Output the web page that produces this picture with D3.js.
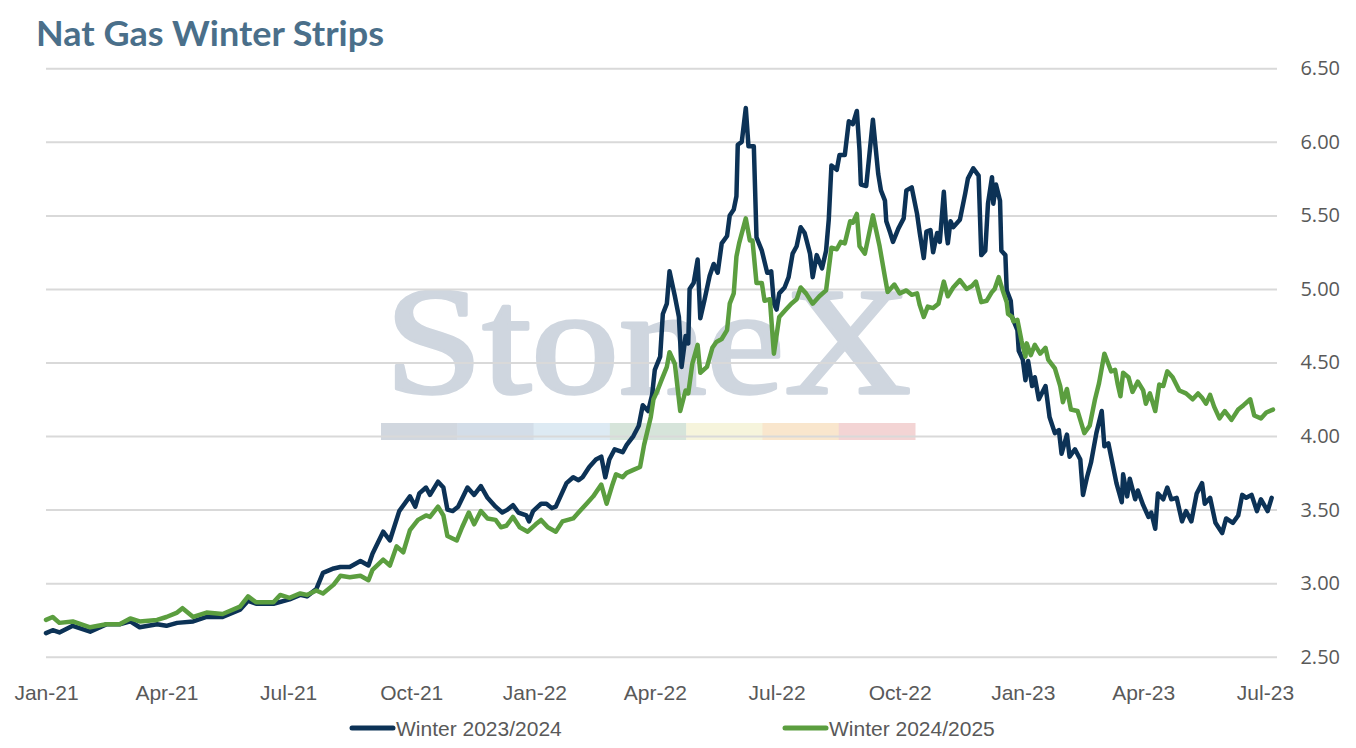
<!DOCTYPE html>
<html>
<head>
<meta charset="utf-8">
<script src="https://cdn.jsdelivr.net/npm/d3@7"></script>
<style>
  body { margin: 0; background: #fff; }
  svg { display: block; }
</style>
</head>
<body>
<div id="chart"></div>
<script>
// ---- data ----
const seriesNames = ["Winter 2023/2024", "Winter 2024/2025"];
const seriesColors = ["#0c3256", "#5b9e3f"];
const yTicks = [2.5, 3.0, 3.5, 4.0, 4.5, 5.0, 5.5, 6.0, 6.5];

const dates2324 = [
  "2021-01-01","2021-01-06","2021-01-11","2021-01-21","2021-02-03","2021-02-15","2021-02-25","2021-03-05","2021-03-12","2021-03-25",
  "2021-04-01","2021-04-09","2021-04-21","2021-05-01","2021-05-13","2021-05-26","2021-06-01","2021-06-07","2021-06-20","2021-07-02",
  "2021-07-10","2021-07-15","2021-07-22","2021-07-27","2021-08-04","2021-08-09","2021-08-16","2021-08-24","2021-08-30","2021-09-02",
  "2021-09-10","2021-09-15","2021-09-22","2021-09-30","2021-10-04","2021-10-07","2021-10-12","2021-10-15","2021-10-21","2021-10-25",
  "2021-10-28","2021-11-01","2021-11-05","2021-11-12","2021-11-17","2021-11-22","2021-11-27","2021-12-03","2021-12-08","2021-12-12",
  "2021-12-16","2021-12-20","2021-12-26","2021-12-28","2021-12-31","2022-01-06","2022-01-10","2022-01-14","2022-01-17","2022-01-25",
  "2022-01-30","2022-02-03","2022-02-06","2022-02-11","2022-02-16","2022-02-20","2022-02-23","2022-02-26","2022-03-02","2022-03-08",
  "2022-03-11","2022-03-16","2022-03-20","2022-03-23","2022-03-27","2022-03-30","2022-04-01","2022-04-05","2022-04-07","2022-04-10",
  "2022-04-12","2022-04-16","2022-04-19","2022-04-21","2022-04-24","2022-04-26","2022-04-27","2022-04-30","2022-05-03","2022-05-05",
  "2022-05-08","2022-05-12","2022-05-15","2022-05-18","2022-05-21","2022-05-25","2022-05-27","2022-05-30","2022-06-01","2022-06-02",
  "2022-06-05","2022-06-08","2022-06-10","2022-06-14","2022-06-16","2022-06-20","2022-06-24","2022-06-27","2022-06-29","2022-07-01",
  "2022-07-03","2022-07-07","2022-07-10","2022-07-13","2022-07-16","2022-07-19","2022-07-22","2022-07-26","2022-07-28","2022-07-31",
  "2022-08-04","2022-08-07","2022-08-09","2022-08-11","2022-08-15","2022-08-17","2022-08-21","2022-08-24","2022-08-27","2022-08-30",
  "2022-09-01","2022-09-02","2022-09-06","2022-09-08","2022-09-11","2022-09-15","2022-09-17","2022-09-20","2022-09-21","2022-09-24",
  "2022-09-26","2022-09-30","2022-10-04","2022-10-06","2022-10-10","2022-10-14","2022-10-16","2022-10-19","2022-10-21","2022-10-24",
  "2022-10-26","2022-10-29","2022-10-31","2022-11-03","2022-11-05","2022-11-06","2022-11-08","2022-11-10","2022-11-15","2022-11-19",
  "2022-11-21","2022-11-25","2022-11-29","2022-12-01","2022-12-04","2022-12-06","2022-12-09","2022-12-10","2022-12-12","2022-12-15",
  "2022-12-16","2022-12-19","2022-12-20","2022-12-23","2022-12-24","2022-12-28","2022-12-29","2023-01-01","2023-01-03","2023-01-05",
  "2023-01-08","2023-01-10","2023-01-13","2023-01-18","2023-01-21","2023-01-25","2023-01-28","2023-01-30","2023-02-03","2023-02-05",
  "2023-02-09","2023-02-13","2023-02-15","2023-02-18","2023-02-21","2023-02-25","2023-03-01","2023-03-03","2023-03-06","2023-03-08",
  "2023-03-12","2023-03-16","2023-03-17","2023-03-20","2023-03-22","2023-03-26","2023-03-28","2023-04-01","2023-04-05","2023-04-07",
  "2023-04-10","2023-04-12","2023-04-16","2023-04-19","2023-04-22","2023-04-26","2023-04-30","2023-05-03","2023-05-07","2023-05-11",
  "2023-05-15","2023-05-17","2023-05-21","2023-05-25","2023-05-30","2023-06-02","2023-06-07","2023-06-11","2023-06-14","2023-06-17",
  "2023-06-21","2023-06-25","2023-06-28","2023-07-03","2023-07-06"
];
const winter2324 = [
  2.66,2.68,2.665,2.71,2.67,2.72,2.72,2.74,2.70,2.72,
  2.71,2.73,2.74,2.77,2.77,2.82,2.88,2.86,2.86,2.89,
  2.92,2.91,2.96,3.07,3.10,3.11,3.11,3.15,3.12,3.20,
  3.35,3.29,3.49,3.59,3.52,3.61,3.65,3.60,3.69,3.65,
  3.50,3.49,3.52,3.65,3.60,3.66,3.58,3.52,3.48,3.50,
  3.53,3.48,3.46,3.42,3.49,3.54,3.54,3.51,3.52,3.68,
  3.72,3.70,3.72,3.79,3.84,3.86,3.72,3.84,3.91,3.89,
  3.94,4.00,4.07,4.21,4.17,4.28,4.45,4.54,4.83,4.90,
  5.12,4.95,4.81,4.47,4.68,4.63,5.00,5.04,5.20,4.80,
  4.92,5.09,5.17,5.11,5.31,5.36,5.50,5.54,5.63,5.98,
  6.00,6.23,5.97,5.97,5.35,5.26,5.11,5.12,4.90,4.86,
  4.97,5.01,5.08,5.24,5.29,5.42,5.38,5.24,5.08,5.23,
  5.14,5.26,5.47,5.84,5.81,5.91,5.91,6.14,6.12,6.21,
  5.94,5.71,5.70,5.88,6.15,5.78,5.67,5.60,5.46,5.38,
  5.32,5.41,5.48,5.67,5.69,5.51,5.38,5.21,5.39,5.40,
  5.25,5.38,5.32,5.66,5.38,5.31,5.46,5.42,5.47,5.65,
  5.75,5.82,5.77,5.23,5.26,5.58,5.76,5.58,5.71,5.60,
  5.26,5.23,4.99,4.92,4.81,4.72,4.58,4.52,4.38,4.51,
  4.34,4.40,4.25,4.34,4.13,4.02,4.04,3.88,4.01,3.86,
  3.91,3.84,3.60,3.72,3.82,4.02,4.17,3.93,3.95,3.86,
  3.68,3.55,3.74,3.59,3.71,3.57,3.63,3.53,3.45,3.48,
  3.37,3.61,3.57,3.65,3.57,3.58,3.42,3.49,3.42,3.61,
  3.68,3.54,3.58,3.41,3.34,3.44,3.41,3.46,3.60,3.58,
  3.60,3.49,3.57,3.49,3.58
];

const dates2425 = [
  "2021-01-01","2021-01-06","2021-01-11","2021-01-21","2021-02-03","2021-02-15","2021-02-25","2021-03-05","2021-03-12","2021-03-25",
  "2021-04-01","2021-04-09","2021-04-13","2021-04-21","2021-05-01","2021-05-13","2021-05-26","2021-06-01","2021-06-07","2021-06-20",
  "2021-06-25","2021-07-02","2021-07-10","2021-07-15","2021-07-22","2021-07-27","2021-08-04","2021-08-09","2021-08-16","2021-08-24",
  "2021-08-30","2021-09-02","2021-09-10","2021-09-15","2021-09-20","2021-09-25","2021-09-30","2021-10-06","2021-10-12","2021-10-15",
  "2021-10-21","2021-10-25","2021-10-28","2021-11-04","2021-11-08","2021-11-13","2021-11-17","2021-11-22","2021-11-27","2021-12-03",
  "2021-12-07","2021-12-11","2021-12-16","2021-12-21","2021-12-27","2022-01-02","2022-01-06","2022-01-11","2022-01-17","2022-01-22",
  "2022-01-30","2022-02-04","2022-02-09","2022-02-14","2022-02-20","2022-02-24","2022-02-28","2022-03-03","2022-03-08","2022-03-11",
  "2022-03-16","2022-03-21","2022-03-24","2022-03-29","2022-03-31","2022-04-03","2022-04-06","2022-04-10","2022-04-12","2022-04-16",
  "2022-04-20","2022-04-24","2022-04-26","2022-04-29","2022-05-03","2022-05-05","2022-05-10","2022-05-14","2022-05-17","2022-05-21",
  "2022-05-25","2022-05-27","2022-05-30","2022-06-01","2022-06-03","2022-06-08","2022-06-11","2022-06-13","2022-06-16","2022-06-20",
  "2022-06-22","2022-06-26","2022-06-29","2022-07-03","2022-07-08","2022-07-12","2022-07-16","2022-07-19","2022-07-23","2022-07-28",
  "2022-08-02","2022-08-07","2022-08-11","2022-08-15","2022-08-18","2022-08-21","2022-08-25","2022-08-27","2022-08-30","2022-09-01",
  "2022-09-05","2022-09-11","2022-09-16","2022-09-20","2022-09-22","2022-09-27","2022-10-01","2022-10-06","2022-10-10","2022-10-14",
  "2022-10-16","2022-10-19","2022-10-22","2022-10-26","2022-10-30","2022-11-03","2022-11-06","2022-11-10","2022-11-15","2022-11-20",
  "2022-11-24","2022-11-27","2022-12-01","2022-12-05","2022-12-09","2022-12-11","2022-12-14","2022-12-17","2022-12-20","2022-12-21",
  "2022-12-24","2022-12-25","2022-12-28","2022-12-31","2023-01-03","2023-01-04","2023-01-07","2023-01-10","2023-01-14","2023-01-18",
  "2023-01-20","2023-01-25","2023-01-29","2023-01-31","2023-02-03","2023-02-06","2023-02-11","2023-02-16","2023-02-20","2023-02-24",
  "2023-02-27","2023-03-03","2023-03-06","2023-03-08","2023-03-11","2023-03-13","2023-03-15","2023-03-17","2023-03-21","2023-03-24",
  "2023-03-28","2023-04-01","2023-04-03","2023-04-06","2023-04-10","2023-04-13","2023-04-16","2023-04-19","2023-04-23","2023-04-28",
  "2023-05-03","2023-05-08","2023-05-12","2023-05-15","2023-05-18","2023-05-21","2023-05-24","2023-05-28","2023-06-01","2023-06-06",
  "2023-06-11","2023-06-15","2023-06-20","2023-06-23","2023-06-28","2023-07-02","2023-07-07"
];
const winter2425 = [
  2.75,2.77,2.73,2.74,2.70,2.72,2.72,2.76,2.74,2.75,
  2.77,2.80,2.83,2.77,2.80,2.79,2.84,2.91,2.87,2.87,
  2.92,2.90,2.93,2.92,2.95,2.93,2.99,3.05,3.04,3.05,
  3.02,3.09,3.16,3.12,3.25,3.21,3.36,3.43,3.46,3.45,
  3.52,3.46,3.32,3.29,3.38,3.48,3.40,3.49,3.44,3.43,
  3.38,3.39,3.45,3.38,3.35,3.40,3.43,3.38,3.35,3.42,
  3.44,3.49,3.54,3.59,3.67,3.54,3.66,3.74,3.72,3.75,
  3.77,3.79,3.94,4.13,4.25,4.31,4.38,4.47,4.57,4.49,
  4.17,4.31,4.29,4.49,4.62,4.43,4.47,4.60,4.64,4.66,
  4.72,4.90,4.97,5.22,5.31,5.48,5.33,5.33,5.04,5.04,
  4.92,4.93,4.56,4.81,4.86,4.90,4.93,5.01,4.97,4.90,
  4.95,4.99,5.28,5.27,5.32,5.31,5.46,5.45,5.51,5.29,
  5.24,5.50,5.29,5.08,4.98,5.03,4.97,4.99,4.96,4.97,
  4.89,4.81,4.88,4.87,4.90,5.05,4.95,5.01,5.06,5.00,
  5.02,5.05,4.91,4.92,4.98,5.00,5.08,4.99,4.91,4.83,
  4.81,4.78,4.79,4.65,4.54,4.63,4.55,4.62,4.56,4.60,
  4.52,4.46,4.34,4.23,4.32,4.18,4.17,4.02,4.07,4.25,
  4.36,4.56,4.49,4.44,4.45,4.35,4.27,4.43,4.40,4.30,
  4.37,4.31,4.22,4.29,4.17,4.35,4.34,4.44,4.40,4.31,
  4.29,4.25,4.29,4.26,4.22,4.28,4.20,4.12,4.17,4.11,
  4.18,4.21,4.25,4.14,4.12,4.16,4.18
];

const seriesDates = [dates2324, dates2425];
const seriesValues = [winter2324, winter2425];

// ---- layout ----
const W = 1356, H = 748;
const plot = { left: 46, right: 1277, top: 68.3, bottom: 656.7 };
const parseDate = d3.timeParse("%Y-%m-%d");

const svg = d3.select("#chart").append("svg")
  .attr("width", W)
  .attr("height", H);

const x = d3.scaleTime()
  .domain([parseDate("2021-01-01"), parseDate("2023-07-10")])
  .range([plot.left, plot.right]);

const y = d3.scaleLinear()
  .domain([2.5, 6.5])
  .range([plot.bottom, plot.top]);

// title
svg.append("text")
  .attr("x", 36)
  .attr("y", 46)
  .attr("font-family", "Lato, 'Open Sans', sans-serif")
  .attr("font-weight", 700)
  .attr("font-size", 34)
  .attr("textLength", 348)
  .attr("lengthAdjust", "spacingAndGlyphs")
  .attr("fill", "#4a6f8a")
  .text("Nat Gas Winter Strips");

// watermark
const wm = svg.append("g").attr("class", "watermark");
wm.append("text")
  .attr("x", 385)
  .attr("y", 393)
  .attr("font-family", "'Liberation Serif', 'DejaVu Serif', serif")
  .attr("font-size", 152)
  .attr("textLength", 526)
  .attr("lengthAdjust", "spacingAndGlyphs")
  .attr("fill", "#cfd6df")
  .attr("stroke", "#cfd6df")
  .attr("stroke-width", 3.5)
  .attr("stroke-linejoin", "round")
  .text("StoneX");
const wmColors = ["#d1d7df", "#d3dde8", "#ddeaf3", "#d6e4da", "#f6f4dc", "#f9e6cd", "#f3d4d4"];
const segW = (915 - 381) / wmColors.length;
wm.selectAll("rect")
  .data(wmColors)
  .join("rect")
  .attr("x", (d, i) => 381 + i * segW)
  .attr("y", 423)
  .attr("width", segW + 0.5)
  .attr("height", 17)
  .attr("fill", d => d);

// y axis with gridlines (labels on the right)
const yAxis = svg.append("g")
  .attr("class", "y-axis axis")
  .attr("transform", "translate(" + plot.right + ",0)")
  .call(d3.axisRight(y)
    .tickValues(yTicks)
    .tickSize(-(plot.right - plot.left))
    .tickFormat(d3.format(".2f")));
yAxis.select(".domain").remove();
yAxis.selectAll("line")
  .attr("stroke", "#d9d9d9")
  .attr("stroke-width", 2);
yAxis.selectAll("text")
  .attr("x", 1340 - plot.right)
  .attr("text-anchor", "end")
  .attr("font-family", "'Open Sans', sans-serif")
  .attr("font-size", 20)
  .attr("fill", "#595959");

// x axis
const xAxis = svg.append("g")
  .attr("class", "x-axis axis")
  .attr("transform", "translate(0," + plot.bottom + ")")
  .call(d3.axisBottom(x)
    .ticks(d3.timeMonth.every(3))
    .tickSize(0)
    .tickPadding(28)
    .tickFormat(d3.timeFormat("%b-%y")));
xAxis.select(".domain").remove();
xAxis.selectAll("text")
  .attr("font-family", "'Liberation Sans', Arial, sans-serif")
  .attr("font-size", 21)
  .attr("fill", "#595959");

// lines
const line = d3.line()
  .x(d => x(d.date))
  .y(d => y(d.value));

seriesNames.forEach((name, i) => {
  const pts = seriesDates[i].map((d, j) => ({ date: parseDate(d), value: seriesValues[i][j] }));
  svg.append("path")
    .datum(pts)
    .attr("fill", "none")
    .attr("stroke", seriesColors[i])
    .attr("stroke-width", 4.5)
    .attr("stroke-linejoin", "round")
    .attr("stroke-linecap", "round")
    .attr("d", line);
});

// legend
const legendX = [352, 785];
const legend = svg.append("g").attr("class", "legend");
seriesNames.forEach((name, i) => {
  legend.append("line")
    .attr("x1", legendX[i])
    .attr("x2", legendX[i] + 41)
    .attr("y1", 728)
    .attr("y2", 728)
    .attr("stroke", seriesColors[i])
    .attr("stroke-width", 5)
    .attr("stroke-linecap", "round");
  legend.append("text")
    .attr("x", legendX[i] + 44)
    .attr("y", 736)
    .attr("font-family", "'Liberation Sans', Arial, sans-serif")
    .attr("font-size", 21)
    .attr("fill", "#595959")
    .text(name);
});
</script>
</body>
</html>
